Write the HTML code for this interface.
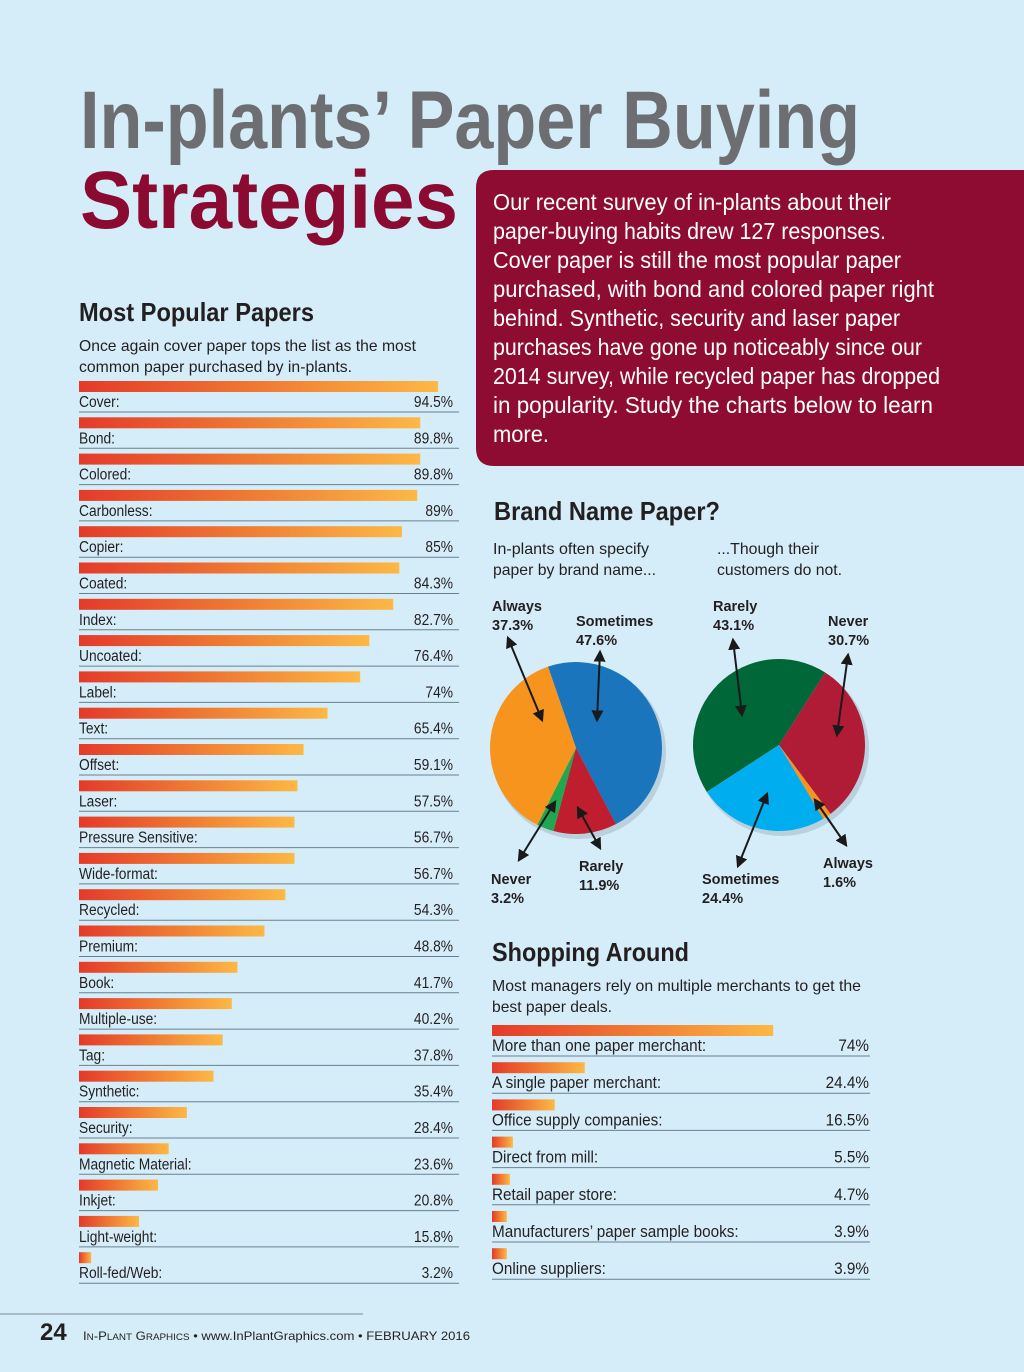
<!DOCTYPE html>
<html><head><meta charset="utf-8"><style>
body{margin:0;background:#d5edf8;}
svg{display:block;font-family:"Liberation Sans",sans-serif;}
</style></head><body>
<svg id="page" width="1024" height="1372" viewBox="0 0 1024 1372">
<defs>
<linearGradient id="bg" x1="0" x2="1" y1="0" y2="0"><stop offset="0" stop-color="#e43a2a"/><stop offset="0.5" stop-color="#ef7a33"/><stop offset="1" stop-color="#fdb845"/></linearGradient>
<marker id="ah" viewBox="0 0 10 10" refX="8" refY="5" markerWidth="6" markerHeight="6" orient="auto-start-reverse"><path d="M0,0L10,5L0,10z" fill="#1a1a1a"/></marker>
</defs>
<rect width="1024" height="1372" fill="#d5edf8"/>
<text x="80" y="148" font-size="82" font-weight="bold" fill="#6d6e71" textLength="780" lengthAdjust="spacingAndGlyphs">In-plants’ Paper Buying</text>
<text x="80" y="228" font-size="82" font-weight="bold" fill="#8b0a32" textLength="378" lengthAdjust="spacingAndGlyphs">Strategies</text>
<path d="M494,170 H1024 V466 H494 Q476,466 476,448 V188 Q476,170 494,170Z" fill="#8e0c32"/>
<g fill="#fff" font-size="23">
<text x="493" y="210" textLength="398" lengthAdjust="spacingAndGlyphs">Our recent survey of in-plants about their</text>
<text x="493" y="239" textLength="393" lengthAdjust="spacingAndGlyphs">paper-buying habits drew 127 responses.</text>
<text x="493" y="268" textLength="408" lengthAdjust="spacingAndGlyphs">Cover paper is still the most popular paper</text>
<text x="493" y="297" textLength="441" lengthAdjust="spacingAndGlyphs">purchased, with bond and colored paper right</text>
<text x="493" y="326" textLength="407" lengthAdjust="spacingAndGlyphs">behind. Synthetic, security and laser paper</text>
<text x="493" y="355" textLength="429" lengthAdjust="spacingAndGlyphs">purchases have gone up noticeably since our</text>
<text x="493" y="384" textLength="447" lengthAdjust="spacingAndGlyphs">2014 survey, while recycled paper has dropped</text>
<text x="493" y="413" textLength="440" lengthAdjust="spacingAndGlyphs">in popularity.  Study the charts below to learn</text>
<text x="493" y="442" textLength="56" lengthAdjust="spacingAndGlyphs">more.</text>
</g>
<text x="79" y="321" font-size="26" font-weight="bold" fill="#231f20" textLength="235" lengthAdjust="spacingAndGlyphs">Most Popular Papers</text>
<text x="79" y="351" font-size="16" fill="#231f20" textLength="337" lengthAdjust="spacingAndGlyphs">Once again cover paper tops the list as the most</text>
<text x="79" y="372" font-size="16" fill="#231f20" textLength="273" lengthAdjust="spacingAndGlyphs">common paper purchased by in-plants.</text>
<g id="bars1"></g>

<text x="494" y="520" font-size="26" font-weight="bold" fill="#231f20" textLength="226" lengthAdjust="spacingAndGlyphs">Brand Name Paper?</text>
<g font-size="16" fill="#231f20">
<text x="493" y="554" textLength="156" lengthAdjust="spacingAndGlyphs">In-plants often specify</text>
<text x="493" y="575" textLength="163" lengthAdjust="spacingAndGlyphs">paper by brand name...</text>
<text x="717" y="554" textLength="102" lengthAdjust="spacingAndGlyphs">...Though their</text>
<text x="717" y="575" textLength="125" lengthAdjust="spacingAndGlyphs">customers do not.</text>
</g>
<g id="pies"></g>
<g font-size="14.5" font-weight="bold" fill="#231f20">
<text x="492" y="611">Always</text><text x="492" y="630">37.3%</text>
<text x="576" y="626">Sometimes</text><text x="576" y="645">47.6%</text>
<text x="491" y="884">Never</text><text x="491" y="903">3.2%</text>
<text x="579" y="871">Rarely</text><text x="579" y="890">11.9%</text>
<text x="713" y="611">Rarely</text><text x="713" y="630">43.1%</text>
<text x="828" y="626">Never</text><text x="828" y="645">30.7%</text>
<text x="702" y="884">Sometimes</text><text x="702" y="903">24.4%</text>
<text x="823" y="868">Always</text><text x="823" y="887">1.6%</text>
</g>
<g stroke="#1a1a1a" stroke-width="2" marker-start="url(#ah)" marker-end="url(#ah)">
<line x1="508" y1="638" x2="542" y2="720"/>
<line x1="600" y1="652" x2="597" y2="720"/>
<line x1="519" y1="860" x2="555" y2="802"/>
<line x1="600" y1="848" x2="578" y2="808"/>
<line x1="733" y1="640" x2="742" y2="715"/>
<line x1="848" y1="655" x2="837" y2="735"/>
<line x1="738" y1="866" x2="767" y2="794"/>
<line x1="846" y1="845" x2="815" y2="800"/>
</g>

<text x="492" y="961" font-size="26" font-weight="bold" fill="#231f20" textLength="197" lengthAdjust="spacingAndGlyphs">Shopping Around</text>
<text x="492" y="991" font-size="16" fill="#231f20" textLength="369" lengthAdjust="spacingAndGlyphs">Most managers rely on multiple merchants to get the</text>
<text x="492" y="1012" font-size="16" fill="#231f20" textLength="120" lengthAdjust="spacingAndGlyphs">best paper deals.</text>
<g id="bars2"></g>

<line x1="0" y1="1314" x2="363" y2="1314" stroke="#7a8c99" stroke-width="1"/>
<text x="40" y="1340" font-size="24" font-weight="bold" fill="#231f20">24</text>
<text x="83" y="1340" font-size="12" fill="#231f20" textLength="387" lengthAdjust="spacingAndGlyphs">I<tspan font-size="9">N</tspan>-P<tspan font-size="9">LANT</tspan> G<tspan font-size="9">RAPHICS</tspan>  •  www.InPlantGraphics.com  •  FEBRUARY 2016</text>
</svg>
<script>
const paperCats=["Cover","Bond","Colored","Carbonless","Copier","Coated","Index","Uncoated","Label","Text","Offset","Laser","Pressure Sensitive","Wide-format","Recycled","Premium","Book","Multiple-use","Tag","Synthetic","Security","Magnetic Material","Inkjet","Light-weight","Roll-fed/Web"];
const paperVals=[94.5,89.8,89.8,89,85,84.3,82.7,76.4,74,65.4,59.1,57.5,56.7,56.7,54.3,48.8,41.7,40.2,37.8,35.4,28.4,23.6,20.8,15.8,3.2];
const paperLabels=["94.5%","89.8%","89.8%","89%","85%","84.3%","82.7%","76.4%","74%","65.4%","59.1%","57.5%","56.7%","56.7%","54.3%","48.8%","41.7%","40.2%","37.8%","35.4%","28.4%","23.6%","20.8%","15.8%","3.2%"];
const shopCats=["More than one paper merchant","A single paper merchant","Office supply companies","Direct from mill","Retail paper store","Manufacturers’ paper sample books","Online suppliers"];
const shopVals=[74,24.4,16.5,5.5,4.7,3.9,3.9];
const shopLabels=["74%","24.4%","16.5%","5.5%","4.7%","3.9%","3.9%"];
const pie1Cats=["Sometimes","Rarely","Never","Always"];
const pie1Vals=[47.6,11.9,3.2,37.3];
const pie2Cats=["Rarely","Never","Always","Sometimes"];
const pie2Vals=[43.1,30.7,1.6,24.4];

const NS="http://www.w3.org/2000/svg";
function mk(tag,attrs,parent){const e=document.createElementNS(NS,tag);for(const k in attrs)e.setAttribute(k,attrs[k]);parent.appendChild(e);return e;}
const xScale=v=>v*3.8;

function barChart(g,cats,vals,labels,x0,y0,step,right,lineEnd,prefix,fs,sx){
  cats.forEach((c,i)=>{
    const y=y0+i*step;
    const r=mk('rect',{x:x0,y:y,width:xScale(vals[i]),height:11,fill:'url(#bg)'},g);
    
    
    const t=mk('text',{x:0,y:0,'font-size':fs,fill:'#231f20',transform:`translate(${x0},${y+26}) scale(${sx},1)`},g);
    t.textContent=c+':';
    
    
    const v=mk('text',{x:0,y:0,'font-size':fs,fill:'#231f20','text-anchor':'end',transform:`translate(${right},${y+26}) scale(${sx},1)`},g);
    v.textContent=labels[i];
    
    
    const l=mk('line',{x1:x0,y1:y+31,x2:lineEnd,y2:y+31,stroke:'#6a8090','stroke-width':1},g);
    
    
  });
}
barChart(document.getElementById('bars1'),paperCats,paperVals,paperLabels,79,381,36.3,453,459,'paper',15.5,0.89);
barChart(document.getElementById('bars2'),shopCats,shopVals,shopLabels,492,1025,37.2,869,870,'shop',17,0.9);

function pie(g,cats,vals,colors,cx,cy,r,start,prefix){
  const sh=mk('circle',{cx:cx+3,cy:cy+4,r:r+1,fill:'#9fb3c0',opacity:0.5},g);
  
  
  const tot=vals.reduce((a,b)=>a+b,0);
  let a=start;
  vals.forEach((v,i)=>{
    const a2=a+v/tot*360;
    const p=d=>[cx+r*Math.sin(d*Math.PI/180),cy-r*Math.cos(d*Math.PI/180)];
    const [x1,y1]=p(a),[x2,y2]=p(a2);
    const large=(a2-a)>180?1:0;
    const s=mk('path',{d:`M${cx},${cy}L${x1},${y1}A${r},${r} 0 ${large} 1 ${x2},${y2}Z`,fill:colors[i]},g);
    
    
    a=a2;
  });
}
const pg=document.getElementById('pies');
pie(pg,pie1Cats,pie1Vals,['#1b75bc','#be1e2d','#1fa84f','#f7941d'],576,748,86,-19,'pie-inplants');
pie(pg,pie2Cats,pie2Vals,['#006838','#b01c36','#f7941d','#00aeef'],779,745,86,237,'pie-customers');
</script>
</body></html>
